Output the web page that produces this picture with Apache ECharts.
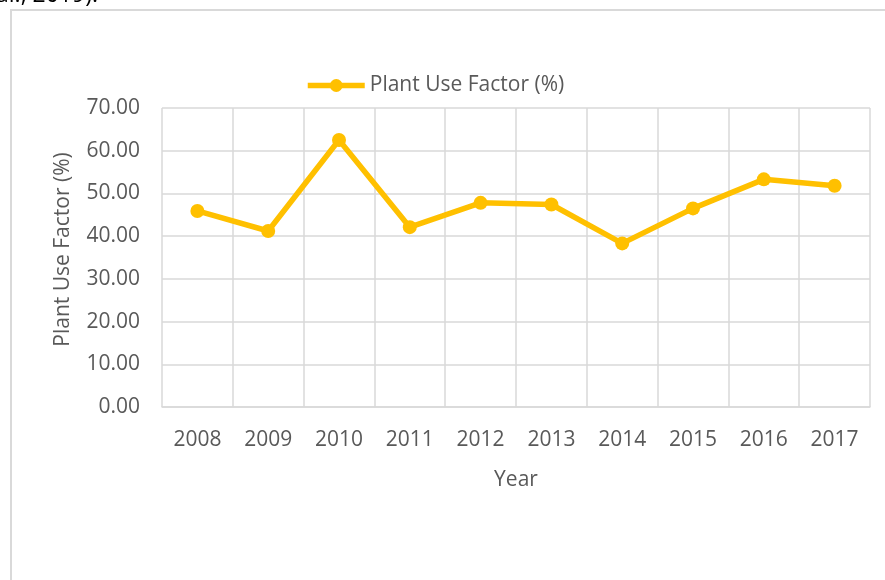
<!DOCTYPE html>
<html><head><meta charset="utf-8">
<script src="https://cdn.jsdelivr.net/npm/echarts@6/dist/echarts.min.js"></script>
<style>html,body{margin:0;padding:0;background:#fff}#c{width:885px;height:580px}</style>
</head><body><div id="c"></div>
<script>
const years = ['2008','2009','2010','2011','2012','2013','2014','2015','2016','2017'];
const plantUseFactor = [45.9, 41.2, 62.5, 42.1, 47.8, 47.4, 38.3, 46.5, 53.3, 51.8];
const seriesName = 'Plant Use Factor (%)';
const yAxisTitle = 'Plant Use Factor (%)';
const xAxisTitle = 'Year';

const FONT = '"Open Sans", "Noto Sans", sans-serif';
const chart = echarts.init(document.getElementById('c'));
chart.setOption({
  animation: false,
  backgroundColor: '#fff',
  graphic: [
    {type: 'rect', shape: {x: 11, y: 10, width: 885, height: 590}, style: {fill: '#fff', stroke: '#d9d9d9', lineWidth: 2}, z: -10},
    {type: 'text', left: -4, top: -16, style: {text: 'al., 2019).', font: '23px "Open Sans", sans-serif', fill: '#000'}}
  ],
  legend: {
    data: [seriesName], top: 70, left: 300, padding: [5, 5, 5, 5],
    itemWidth: 57, itemHeight: 16, itemGap: 6,
    lineStyle: {width: 5.5},
    textStyle: {fontFamily: FONT, fontSize: 21, color: '#595959'}
  },
  grid: {left: 162, right: 15, top: 108, bottom: 173},
  xAxis: {
    type: 'category', data: years, boundaryGap: true,
    name: xAxisTitle, nameLocation: 'middle', nameGap: 63,
    nameTextStyle: {fontFamily: FONT, fontSize: 21, color: '#595959'},
    axisLine: {lineStyle: {color: '#d9d9d9', width: 1.5}},
    axisTick: {show: false},
    axisLabel: {fontFamily: FONT, fontSize: 21, color: '#595959', margin: 23},
    splitLine: {show: true, lineStyle: {color: '#d9d9d9', width: 1.5}}
  },
  yAxis: {
    type: 'value', min: 0, max: 70, interval: 10,
    name: yAxisTitle, nameLocation: 'middle', nameGap: 88,
    nameTextStyle: {fontFamily: FONT, fontSize: 21, color: '#595959', padding: [0, 0, 0, 16]},
    axisLine: {show: false}, axisTick: {show: false},
    axisLabel: {fontFamily: FONT, fontSize: 21, color: '#595959', margin: 22, formatter: v => v.toFixed(2)},
    splitLine: {lineStyle: {color: '#d9d9d9', width: 1.5}}
  },
  series: [{
    name: seriesName, type: 'line', data: plantUseFactor,
    symbol: 'circle', symbolSize: 14,
    lineStyle: {color: '#FFC000', width: 5.5},
    itemStyle: {color: '#FFC000'}
  }]
});
</script></body></html>
